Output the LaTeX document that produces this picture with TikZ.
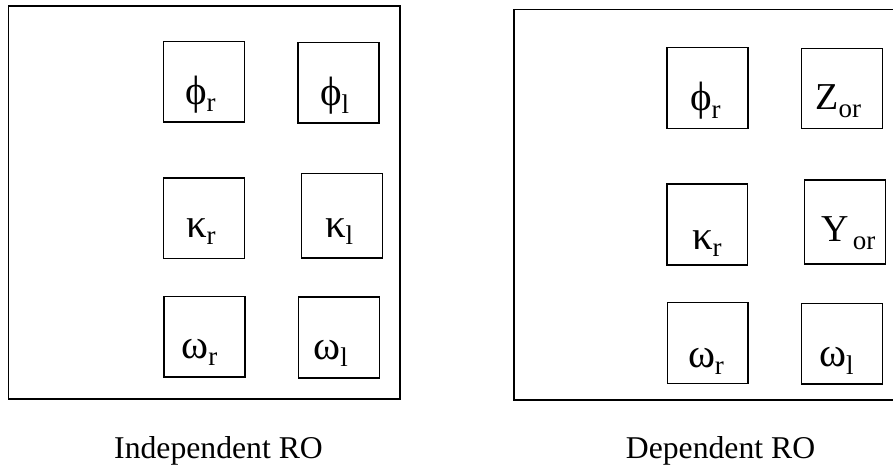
\documentclass[tikz,border=0pt]{standalone}
\usepackage{fontspec}
\setmainfont{Liberation Serif}
\newcommand{\symlab}[2]{{\fontsize{41}{41}\selectfont #1\raisebox{-7.5pt}{\fontsize{27}{27}\selectfont #2}}}
\newcommand{\latlab}[2]{{\fontsize{38}{38}\selectfont #1\raisebox{-8pt}{\fontsize{27}{27}\selectfont #2}}}
\begin{document}
\begin{tikzpicture}[x=1pt,y=-1pt,
  outerbox/.style={draw, line width=1.6pt, rectangle, inner sep=0pt},
  sbox/.style={draw, line width=1.3pt, rectangle, inner sep=0pt},
  lab/.style={anchor=base west, inner sep=0pt, outer sep=0pt},
  captext/.style={anchor=base west, inner sep=0pt, font=\fontsize{31.7}{31.7}\selectfont}]
\useasboundingbox (0,0) rectangle (893,466);
\clip (0,0) rectangle (893,466);
% outer frames
\node[outerbox, minimum width=391.7pt, minimum height=393pt] (L) at (204.15,202.5) {};
\node[outerbox, minimum width=400pt, minimum height=390.7pt] (R) at (713.7,204.65) {};
% left boxes
\node[sbox, minimum width=80.6pt, minimum height=80.3pt] (b1) at (204,81.85) {};
\node[sbox, minimum width=81pt, minimum height=80.3pt] (b2) at (338.5,82.85) {};
\node[sbox, minimum width=80.6pt, minimum height=80.3pt] (b3) at (204,218.15) {};
\node[sbox, minimum width=80.6pt, minimum height=84.3pt] (b4) at (342,215.85) {};
\node[sbox, minimum width=81pt, minimum height=80.7pt] (b5) at (204.5,336.65) {};
\node[sbox, minimum width=81pt, minimum height=81pt] (b6) at (338.8,337.5) {};
% right boxes
\node[sbox, minimum width=81pt, minimum height=80.6pt] (c1) at (707.5,88) {};
\node[sbox, minimum width=81pt, minimum height=80pt] (c2) at (841.8,88.7) {};
\node[sbox, minimum width=80.7pt, minimum height=81pt] (c3) at (707.35,224.5) {};
\node[sbox, minimum width=81pt, minimum height=84pt] (c4) at (845.2,222) {};
\node[sbox, minimum width=80.7pt, minimum height=80.6pt] (c5) at (707.65,343) {};
\node[sbox, minimum width=80.6pt, minimum height=80.3pt] (c6) at (842,343.85) {};
% left labels
\node[lab] (t1) at (185,104.2) {\symlab{ϕ}{r}};
\node[lab] (t2) at (320,105.8) {\symlab{ϕ}{l}};
\node[lab] (t3) at (186,237.3) {\symlab{κ}{r}};
\node[lab] (t4) at (325,237.3) {\symlab{κ}{l}};
\node[lab] (t5) at (181.5,358.3) {\symlab{ω}{r}};
\node[lab] (t6) at (313.5,359) {\symlab{ω}{l}};
% right labels
\node[lab] (u1) at (690,110.8) {\symlab{ϕ}{r}};
\node[lab] (u2) at (815.5,109) {\latlab{Z}{or}};
\node[lab] (u3) at (692,249) {\symlab{κ}{r}};
\node[lab] (u4) at (821,241.7) {\latlab{Y}{\,or}};
\node[lab] (u5) at (688,367) {\symlab{ω}{r}};
\node[lab] (u6) at (819,366.5) {\symlab{ω}{l}};
% captions
\node[captext] (capL) at (114,458) {Independent RO};
\node[captext] (capR) at (625.7,458) {Dependent RO};
\end{tikzpicture}
\end{document}
